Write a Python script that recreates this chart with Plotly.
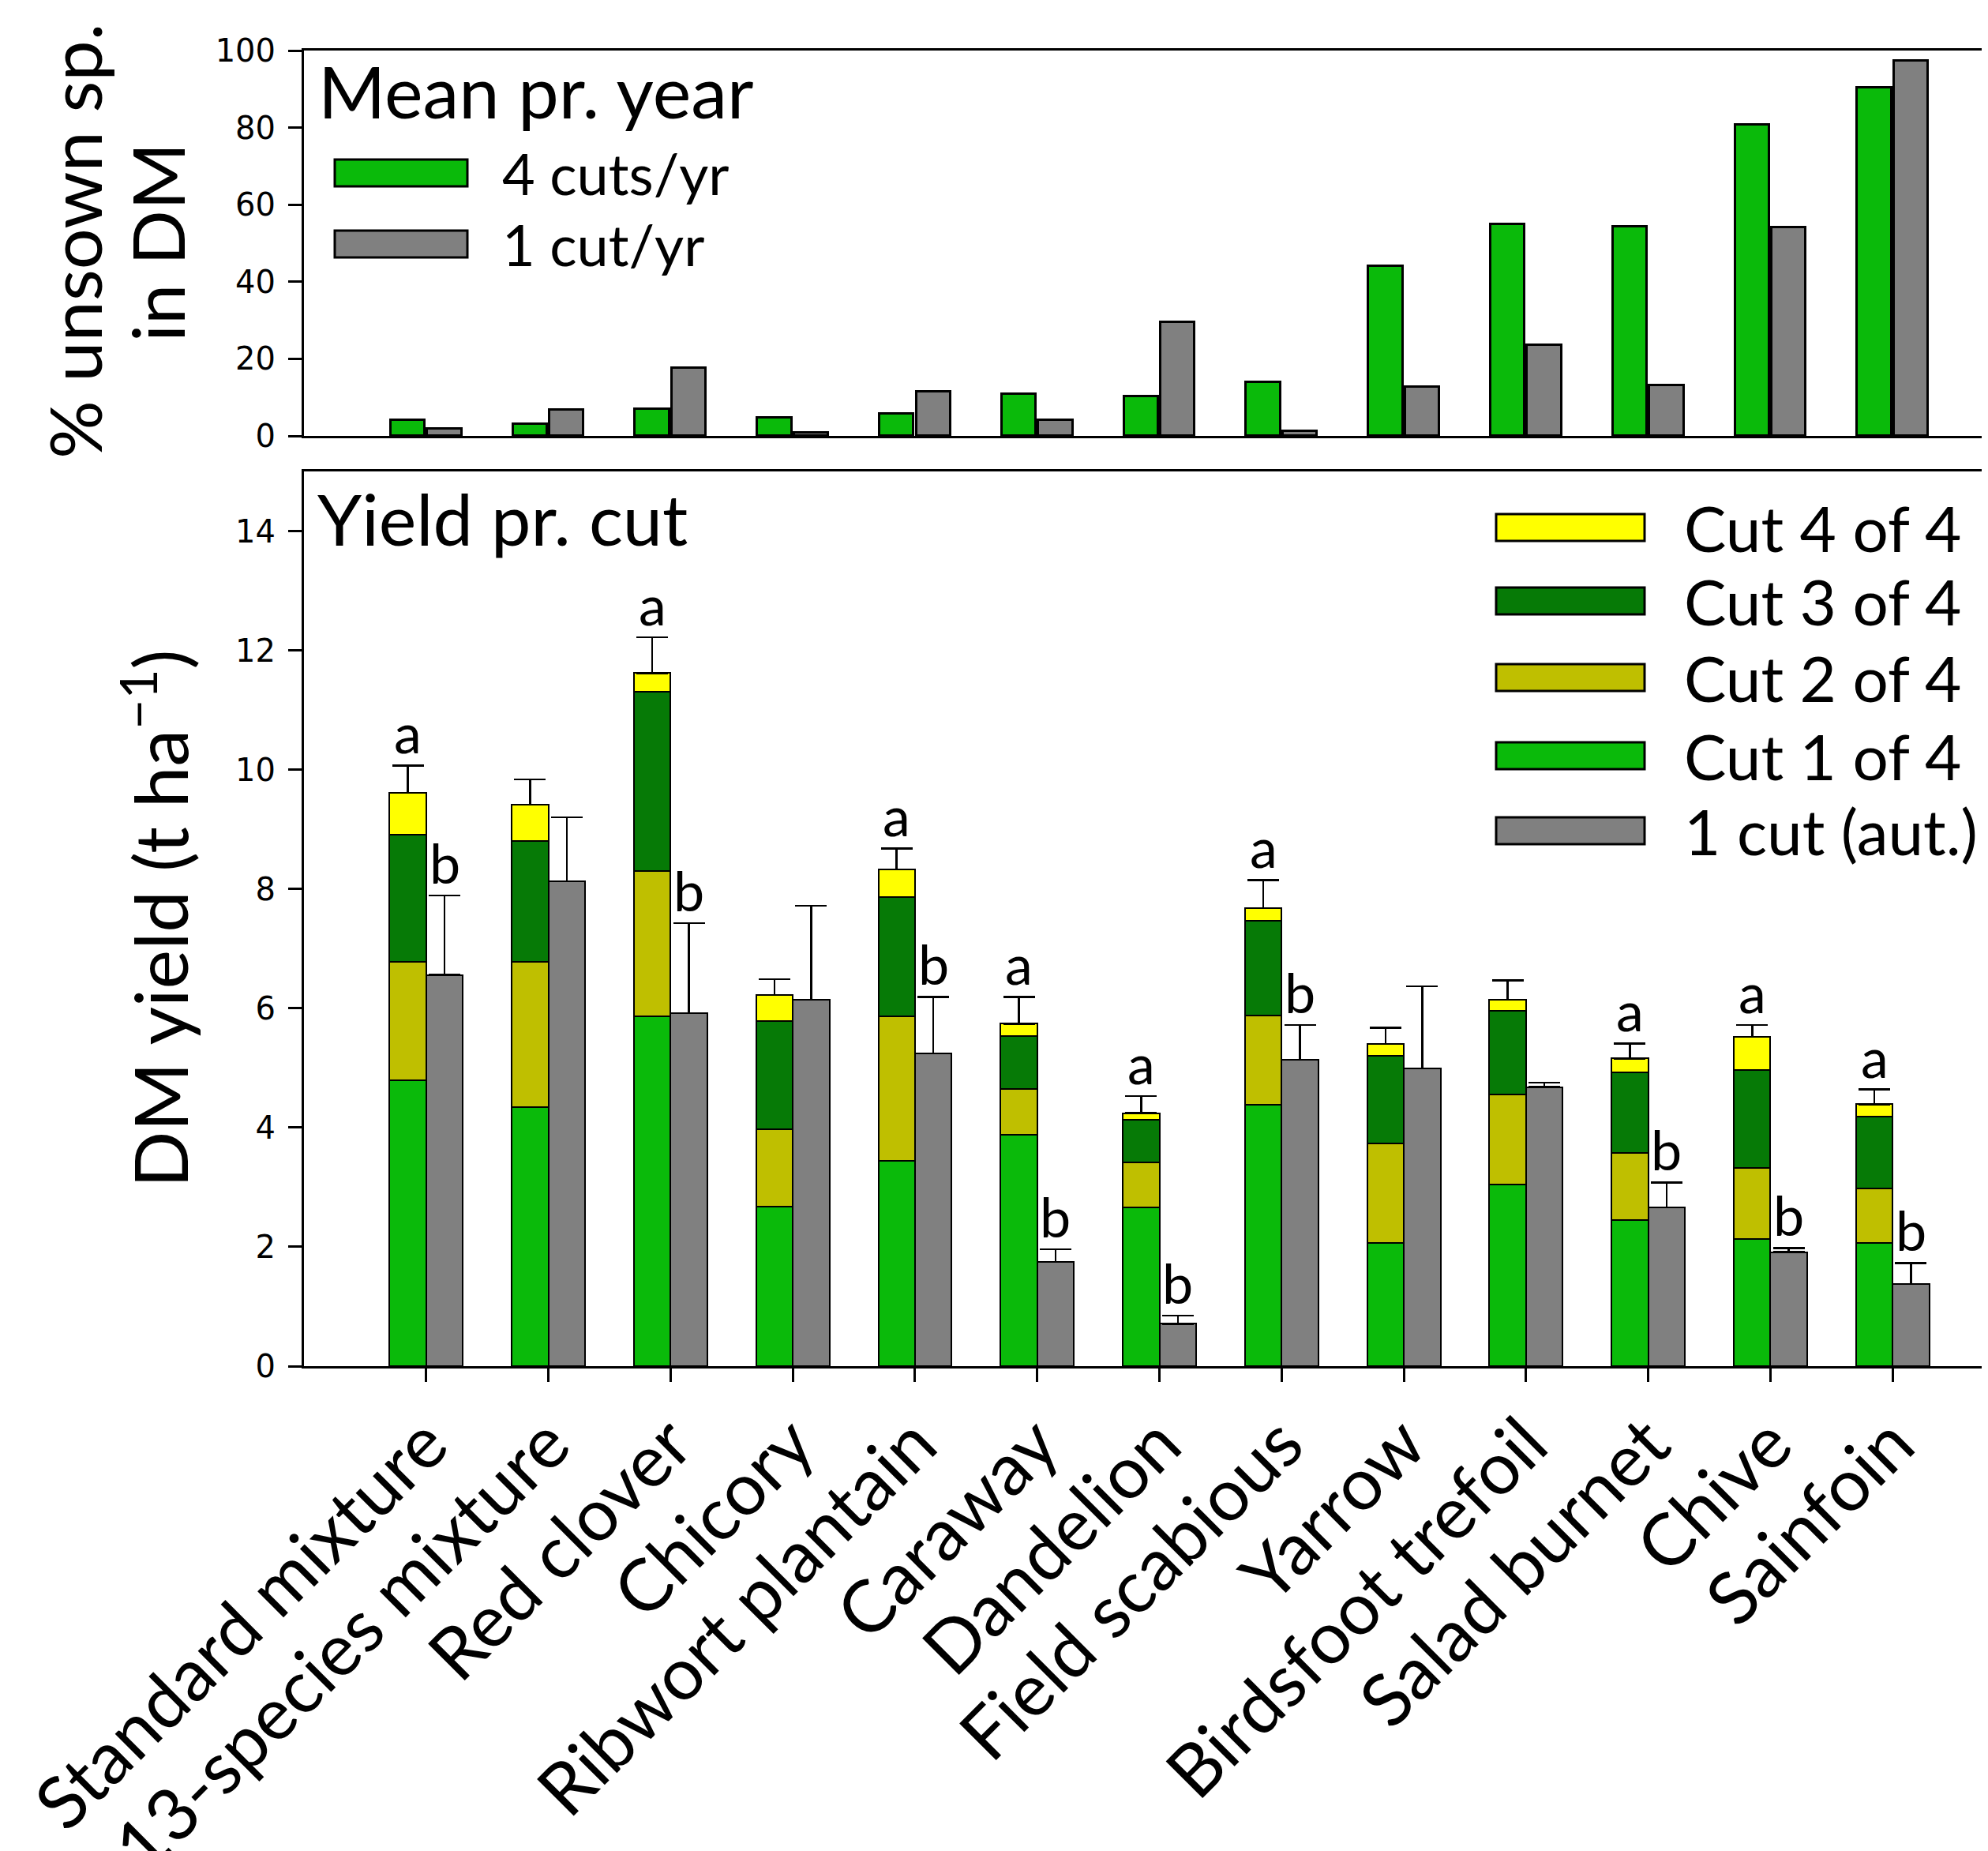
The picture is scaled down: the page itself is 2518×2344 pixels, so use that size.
import plotly.graph_objects as go

# ---------------- data ----------------
categories = ["Standard mixture", "13-species mixture", "Red clover", "Chicory",
              "Ribwort plantain", "Caraway", "Dandelion", "Field scabious", "Yarrow",
              "Birdsfoot trefoil", "Salad burnet", "Chive", "Sainfoin"]

# % unsown species in DM (mean per year)
unsown_4cuts = [4.1, 3.0, 7.0, 4.7, 5.7, 10.8, 10.2, 13.9, 44.1, 54.9, 54.4, 80.8, 90.4]
unsown_1cut = [1.8, 6.8, 17.6, 0.8, 11.5, 4.1, 29.5, 1.2, 12.8, 23.6, 13.1, 54.1, 97.4]

# DM yield per cut (t/ha)
cut1 = [4.79, 4.34, 5.87, 2.67, 3.44, 3.88, 2.66, 4.38, 2.07, 3.05, 2.45, 2.13, 2.06]
cut2 = [1.99, 2.44, 2.43, 1.30, 2.42, 0.77, 0.76, 1.50, 1.67, 1.51, 1.12, 1.19, 0.92]
cut3 = [2.13, 2.02, 3.00, 1.82, 2.00, 0.88, 0.71, 1.59, 1.46, 1.40, 1.36, 1.64, 1.20]
cut4 = [0.70, 0.61, 0.32, 0.43, 0.47, 0.21, 0.11, 0.21, 0.20, 0.18, 0.23, 0.56, 0.21]
err_4cuts = [0.46, 0.43, 0.60, 0.27, 0.35, 0.45, 0.29, 0.47, 0.27, 0.33, 0.25, 0.20, 0.25]
one_cut = [6.56, 8.13, 5.92, 6.14, 5.24, 1.75, 0.71, 5.14, 4.99, 4.68, 2.66, 1.91, 1.38]
err_1cut = [1.33, 1.07, 1.51, 1.58, 0.95, 0.21, 0.14, 0.58, 1.38, 0.07, 0.42, 0.07, 0.35]
letters_4cuts = ["a", "", "a", "", "a", "a", "a", "a", "", "", "a", "a", "a"]
letters_1cut = ["b", "", "b", "", "b", "b", "b", "b", "", "", "b", "b", "b"]

top_ticks = [0, 20, 40, 60, 80, 100]
bottom_ticks = [0, 2, 4, 6, 8, 10, 12, 14]

# ---------------- styles ----------------
C1 = "#0ABA0A"
C2 = "#BFBF00"
C3 = "#067A06"
C4 = "#FFFF00"
CG = "#808080"
FONT = "Lato"
TICKFONT = "DejaVu Sans"
PAGE_MARGIN = 8          # default body margin of the html page
W, H = 2518 - PAGE_MARGIN, 2344 - PAGE_MARGIN


def px(x):
    """page pixel x -> paper coordinate"""
    return (x - PAGE_MARGIN) / W


def py(y):
    """page pixel y (from top) -> paper coordinate"""
    return 1 - (y - PAGE_MARGIN) / H


n = len(categories)
idx = list(range(n))
x_green = [i - 0.15 for i in idx]
x_gray = [i + 0.15 for i in idx]

fig = go.Figure()

# top panel
fig.add_trace(go.Bar(x=x_green, y=unsown_4cuts, width=0.28,
                     marker=dict(color=C1, line=dict(color="black", width=3)),
                     xaxis="x", yaxis="y", showlegend=False))
fig.add_trace(go.Bar(x=x_gray, y=unsown_1cut, width=0.28,
                     marker=dict(color=CG, line=dict(color="black", width=3)),
                     xaxis="x", yaxis="y", showlegend=False))

# bottom panel (stacked)
cuts = [(cut1, C1), (cut2, C2), (cut3, C3), (cut4, C4)]
for k, (vals, col) in enumerate(cuts):
    kw = {}
    if k == 3:
        kw["error_y"] = dict(type="data", symmetric=False, array=err_4cuts, arrayminus=[0] * n,
                             color="black", thickness=2.5, width=20)
    fig.add_trace(go.Bar(x=x_green, y=vals, width=0.3,
                         marker=dict(color=col, line=dict(color="black", width=2)),
                         xaxis="x2", yaxis="y2", showlegend=False, **kw))
fig.add_trace(go.Bar(x=x_gray, y=one_cut, width=0.3,
                     marker=dict(color=CG, line=dict(color="black", width=2)),
                     error_y=dict(type="data", symmetric=False, array=err_1cut, arrayminus=[0] * n,
                                  color="black", thickness=2.5, width=20),
                     xaxis="x2", yaxis="y2", showlegend=False))

annotations = []
# significance letters
for i in idx:
    tot4 = cut1[i] + cut2[i] + cut3[i] + cut4[i] + err_4cuts[i]
    if letters_4cuts[i]:
        annotations.append(dict(x=x_green[i], y=tot4, xref="x2", yref="y2", text=letters_4cuts[i],
                                showarrow=False, yanchor="bottom", xanchor="center", yshift=-2,
                                font=dict(family=FONT, size=70, color="black")))
    if letters_1cut[i]:
        annotations.append(dict(x=x_gray[i], y=one_cut[i] + err_1cut[i], xref="x2", yref="y2",
                                text=letters_1cut[i], showarrow=False, yanchor="bottom", xanchor="center",
                                yshift=-2, font=dict(family=FONT, size=70, color="black")))

# panel titles
annotations.append(dict(x=px(401), y=py(114), xref="paper", yref="paper", text="Mean pr. year",
                        showarrow=False, xanchor="left", yanchor="middle",
                        font=dict(family=FONT, size=92, color="black")))
annotations.append(dict(x=px(400), y=py(656), xref="paper", yref="paper", text="Yield pr. cut",
                        showarrow=False, xanchor="left", yanchor="middle",
                        font=dict(family=FONT, size=90, color="black")))

# y-axis titles
annotations.append(dict(x=px(94), y=py(305), xref="paper", yref="paper", text="% unsown sp.",
                        showarrow=False, textangle=-90, xanchor="center", yanchor="middle",
                        font=dict(family=FONT, size=92, color="black")))
annotations.append(dict(x=px(198), y=py(307), xref="paper", yref="paper", text="in DM",
                        showarrow=False, textangle=-90, xanchor="center", yanchor="middle",
                        font=dict(family=FONT, size=92, color="black")))
annotations.append(dict(x=px(196), y=py(1163), xref="paper", yref="paper",
                        text="DM yield (t ha<sup>−1</sup>)",
                        showarrow=False, textangle=-90, xanchor="center", yanchor="middle",
                        font=dict(family=FONT, size=94, color="black")))

# legends (drawn manually to get wide swatches)
shapes = []
top_legend = [("4 cuts/yr", C1, 219), ("1 cut/yr", CG, 309)]
for label, col, yc in top_legend:
    shapes.append(dict(type="rect", xref="paper", yref="paper", x0=px(424), x1=px(592),
                       y0=py(yc + 17), y1=py(yc - 17),
                       fillcolor=col, line=dict(color="black", width=3)))
    annotations.append(dict(x=px(634), y=py(yc), xref="paper", yref="paper", text=label,
                            showarrow=False, xanchor="left", yanchor="middle",
                            font=dict(family=FONT, size=72, color="black")))

bottom_legend = [("Cut 4 of 4", C4, 668), ("Cut 3 of 4", C3, 761), ("Cut 2 of 4", C2, 858),
                 ("Cut 1 of 4", C1, 957), ("1 cut (aut.)", CG, 1052)]
for label, col, yc in bottom_legend:
    shapes.append(dict(type="rect", xref="paper", yref="paper", x0=px(1895), x1=px(2083),
                       y0=py(yc + 17), y1=py(yc - 17),
                       fillcolor=col, line=dict(color="black", width=3)))
    annotations.append(dict(x=px(2131), y=py(yc), xref="paper", yref="paper", text=label,
                            showarrow=False, xanchor="left", yanchor="middle",
                            font=dict(family=FONT, size=80, color="black")))

xdom = [px(385), 1.0]
xrange = [-1, 12.78]
axis_common = dict(showline=True, linecolor="black", linewidth=3, showgrid=False, zeroline=False)

fig.update_layout(
    width=W, height=H,
    margin=dict(l=0, r=0, t=0, b=0),
    paper_bgcolor="white", plot_bgcolor="white",
    barmode="stack", bargap=0,
    showlegend=False,
    xaxis=dict(domain=xdom, range=xrange, anchor="y", showticklabels=False, ticks="",
               mirror=True, automargin=False, **axis_common),
    yaxis=dict(domain=[py(552), py(64)], range=[0, 100], anchor="x",
               tickvals=top_ticks, ticks="outside", ticklen=17, tickwidth=3, tickcolor="black",
               ticklabelstandoff=8,
               tickfont=dict(family=TICKFONT, size=40, color="black"), automargin=False, **axis_common),
    xaxis2=dict(domain=xdom, range=xrange, anchor="y2", tickvals=idx, ticktext=categories,
                tickangle=-45, ticks="outside", ticklen=17, tickwidth=3, tickcolor="black",
                ticklabelstandoff=-12,
                tickfont=dict(family=FONT, size=92, color="black"), mirror=True, automargin=False,
                **axis_common),
    yaxis2=dict(domain=[py(1730), py(597)], range=[0, 15], anchor="x2",
                tickvals=bottom_ticks, ticks="outside", ticklen=17, tickwidth=3, tickcolor="black",
                ticklabelstandoff=8,
                tickfont=dict(family=TICKFONT, size=40, color="black"), automargin=False, **axis_common),
    annotations=annotations,
    shapes=shapes,
)

fig.write_html("out.html")
